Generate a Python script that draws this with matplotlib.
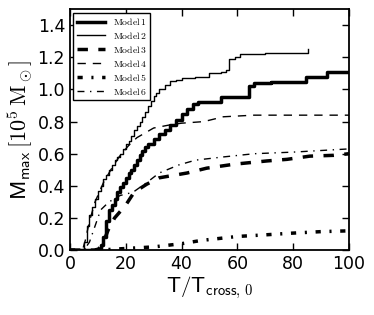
import numpy as np
import matplotlib
matplotlib.use("Agg")
import matplotlib.pyplot as plt

plt.rcParams['mathtext.fontset'] = 'cm'
plt.rcParams['font.family'] = 'DejaVu Sans'

# Model 1 (thick solid, stepped)
m1_x = [0, 8, 9.5, 11, 12, 13, 14, 15, 16, 17, 18, 19, 20, 21, 22, 23, 24, 25, 26, 27, 28,
        30, 32, 34, 36, 38, 40, 42, 44, 46, 54, 64, 66, 72, 84.5, 92, 100]
m1_y = [0, 0, 0.01, 0.03, 0.08, 0.18, 0.25, 0.28, 0.32, 0.36, 0.39, 0.42, 0.45, 0.48, 0.50,
        0.53, 0.56, 0.59, 0.62, 0.64, 0.66, 0.69, 0.72, 0.75, 0.78, 0.81, 0.85, 0.88, 0.91,
        0.92, 0.95, 1.02, 1.04, 1.045, 1.08, 1.11, 1.11]

# Model 2 (thin solid, stepped)
m2_x = [0, 4, 5, 6, 7, 8, 9, 10, 11, 12, 13, 14, 15, 16, 17, 18, 19, 20, 21, 22, 23, 24,
        25, 26, 27, 28, 29, 30, 31, 32, 34, 36, 38, 40, 45, 50, 54, 56, 57, 59, 61, 70, 85.5]
m2_y = [0, 0, 0.05, 0.15, 0.22, 0.27, 0.32, 0.37, 0.40, 0.44, 0.47, 0.50, 0.53, 0.56, 0.58,
        0.60, 0.63, 0.66, 0.68, 0.71, 0.75, 0.77, 0.80, 0.83, 0.86, 0.90, 0.93, 0.96, 0.98,
        1.00, 1.03, 1.05, 1.06, 1.07, 1.08, 1.10, 1.11, 1.12, 1.19, 1.20, 1.22, 1.23, 1.25]

# Model 3 (thick dashed)
m3_x = [0, 10, 12, 13.7, 16, 20, 23, 27.5, 32, 42, 49, 59, 70.6, 77.8, 86, 94.6, 100]
m3_y = [0, 0, 0.05, 0.125, 0.2, 0.28, 0.36, 0.41, 0.45, 0.48, 0.51, 0.535, 0.555, 0.565,
        0.585, 0.59, 0.60]

# Model 4 (thin dashed)
m4_x = [0, 4.5, 5.5, 7, 9, 12, 15, 18, 21, 24, 30, 36, 40, 48, 55, 66, 100]
m4_y = [0, 0, 0.06, 0.18, 0.30, 0.42, 0.51, 0.59, 0.65, 0.70, 0.76, 0.78, 0.79, 0.80,
        0.83, 0.84, 0.84]

# Model 5 (thick dash-dot)
m5_x = [0, 10, 15, 20, 30, 40, 47, 60, 70, 79, 90, 100]
m5_y = [0, 0, 0.005, 0.01, 0.02, 0.04, 0.06, 0.085, 0.095, 0.105, 0.115, 0.12]

# Model 6 (thin dash-dot)
m6_x = [0, 5, 7, 9, 11, 14, 18, 22.6, 27.5, 32, 39, 45, 55, 66, 80, 100]
m6_y = [0, 0, 0.05, 0.15, 0.25, 0.30, 0.34, 0.36, 0.42, 0.48, 0.53, 0.56, 0.58, 0.60,
        0.61, 0.63]

fig = plt.figure(figsize=(3.74, 3.15), dpi=100)
ax = fig.add_axes([0.187, 0.206, 0.746, 0.765])

ax.plot(m1_x, m1_y, 'k-', lw=2.5, drawstyle='steps-post', label=r'$\mathrm{Model\,1}$')
ax.plot(m2_x, m2_y, 'k-', lw=1.0, drawstyle='steps-post', label=r'$\mathrm{Model\,2}$')
ax.plot(m3_x, m3_y, 'k', lw=2.5, ls=(0, (3, 3)), label=r'$\mathrm{Model\,3}$')
ax.plot(m4_x, m4_y, 'k', lw=1.0, ls=(0, (6, 5)), label=r'$\mathrm{Model\,4}$')
ax.plot(m5_x, m5_y, 'k', lw=2.5, ls=(0, (1.5, 2.5, 0.6, 2.5)), label=r'$\mathrm{Model\,5}$')
ax.plot(m6_x, m6_y, 'k', lw=1.0, ls=(0, (5, 4, 1, 4)), label=r'$\mathrm{Model\,6}$')

ax.set_xlim(0, 100)
ax.set_ylim(0, 1.5)
ax.set_xticks(np.arange(0, 101, 20))
ax.set_yticks(np.arange(0, 1.41, 0.2))
ax.tick_params(direction='in', top=True, right=True, labelsize=12.5, length=5, width=1)
for s in ax.spines.values():
    s.set_linewidth(1.3)

ax.set_xlabel(r'$\mathsf{T/T}_{\mathsf{cross},\,0}$', fontsize=15, labelpad=1)
ax.set_ylabel(r'$\mathsf{M_{max}}\,[10^5\,\mathrm{M_\odot}]$', fontsize=16, labelpad=2)

leg = ax.legend(loc='upper left', fontsize=7, fancybox=False, framealpha=1,
                handlelength=2.9, borderpad=0.35, labelspacing=0.3, handletextpad=0.8,
                borderaxespad=0.35)
leg.get_frame().set_edgecolor('black')
leg.get_frame().set_linewidth(1.0)

fig.savefig('out.png', dpi=100)
